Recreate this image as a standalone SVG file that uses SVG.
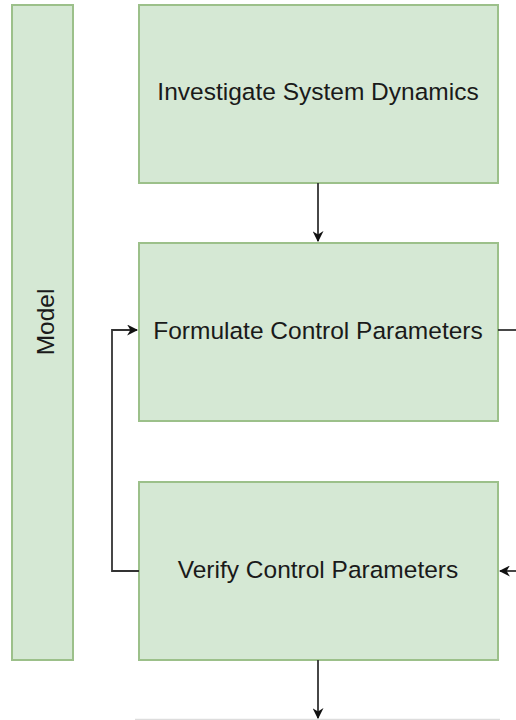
<svg xmlns="http://www.w3.org/2000/svg" width="516" height="720" viewBox="0 0 516 720">
  <style>
    .box { fill: #d5e8d4; stroke: #9cc08a; stroke-width: 2; }
    .label { font-family: "Liberation Sans", Arial, sans-serif; font-size: 24.5px; fill: #1a1a1a; text-anchor: middle; dominant-baseline: central; }
    .edge { fill: none; stroke: #333333; stroke-width: 1.8; }
  </style>
  <defs>
    <marker id="arrow" viewBox="0 0 10 10" refX="9" refY="5" markerWidth="11" markerHeight="11" markerUnits="userSpaceOnUse" orient="auto">
      <path d="M0,0 L10,5 L0,10 L3,5 Z" fill="#111111"/>
    </marker>
  </defs>
  <rect width="516" height="720" fill="#ffffff"/>

  <g id="model">
    <rect class="box" x="12" y="5" width="61" height="655"/>
    <text class="label" transform="translate(45,322) rotate(-90)">Model</text>
  </g>

  <g id="investigate">
    <rect class="box" x="139" y="5" width="359" height="178"/>
    <text class="label" x="318" y="91">Investigate System Dynamics</text>
  </g>

  <g id="formulate">
    <rect class="box" x="139" y="243" width="359" height="178"/>
    <text class="label" x="318" y="330">Formulate Control Parameters</text>
  </g>

  <g id="verify">
    <rect class="box" x="139" y="482" width="359" height="178"/>
    <text class="label" x="318" y="569">Verify Control Parameters</text>
  </g>

  <g id="next">
    <line x1="135" y1="719.5" x2="500" y2="719.5" stroke="#dddddd" stroke-width="1.5"/>
  </g>

  <g id="connectors">
    <path class="edge" d="M318,183 V241" marker-end="url(#arrow)"/>
    <path class="edge" d="M139,571 H112 V330 H137" marker-end="url(#arrow)"/>
    <path class="edge" d="M498,330 H516"/>
    <path class="edge" d="M516,571 H500" marker-end="url(#arrow)"/>
    <path class="edge" d="M318,660 V718" marker-end="url(#arrow)"/>
  </g>
</svg>
